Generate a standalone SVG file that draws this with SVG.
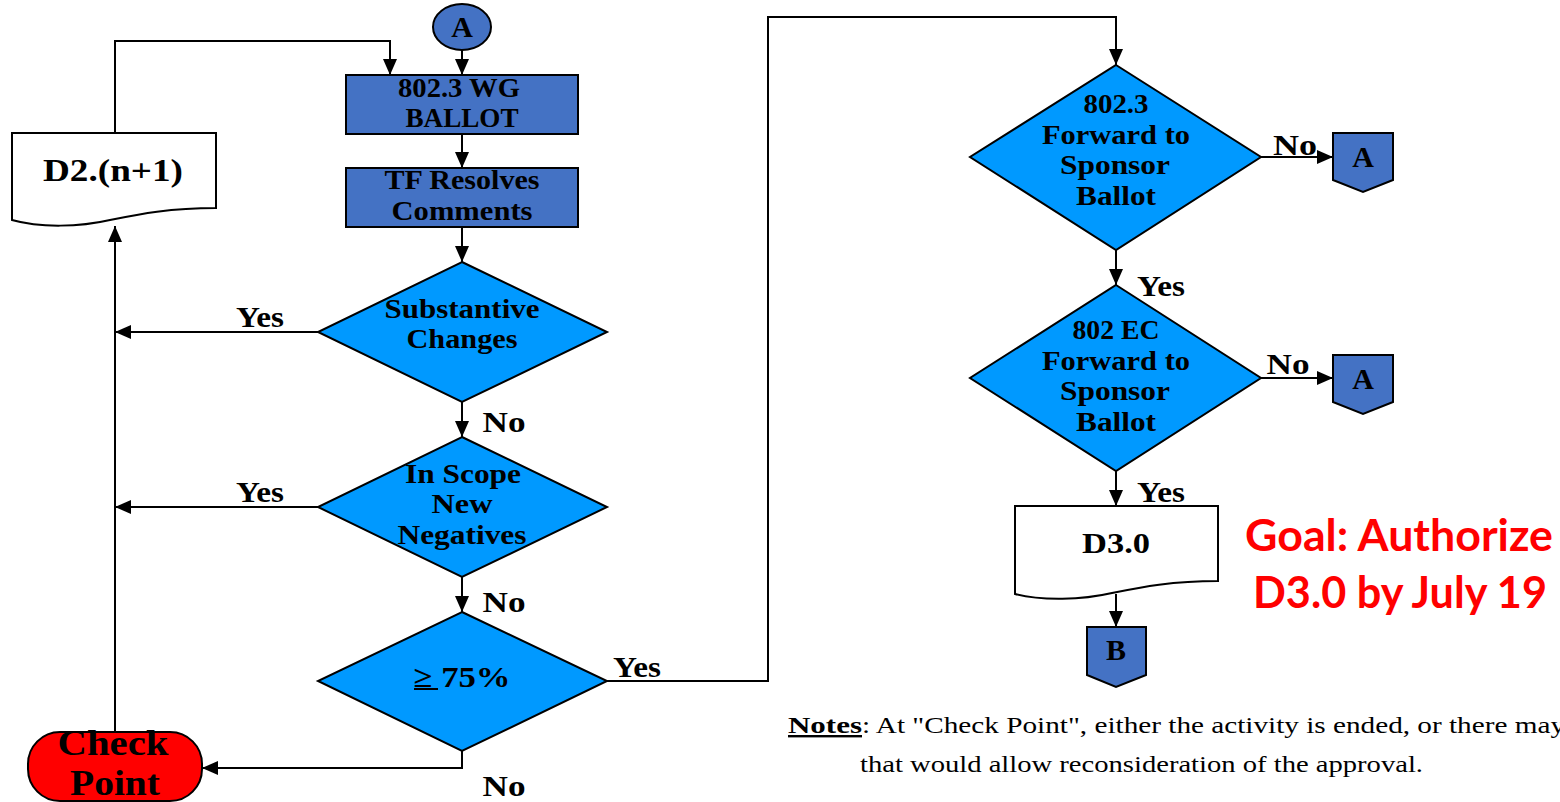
<svg xmlns="http://www.w3.org/2000/svg" width="1560" height="802" viewBox="0 0 1560 802">
<style>
.ln{fill:none;stroke:#000;stroke-width:2}
.box{fill:#4472C4;stroke:#000;stroke-width:2}
.dia{fill:#0099FF;stroke:#000;stroke-width:2}
.doc{fill:#fff;stroke:#000;stroke-width:2}
.t{font-family:"Liberation Serif",serif;font-weight:bold;fill:#000;text-anchor:middle}
.s26{font-size:26px}
.s28{font-size:28px}
.s30{font-size:30px}
.goal{font-family:Lato,"Liberation Sans",sans-serif;font-weight:bold;font-size:43px;fill:#FF0000;text-anchor:middle}
.note{font-family:"Liberation Serif",serif;font-size:24px;fill:#000}
</style>
<defs>
<marker id="ah" viewBox="0 0 16 14" refX="16" refY="7" markerWidth="16" markerHeight="14" orient="auto" markerUnits="userSpaceOnUse">
<path d="M0,0 L16,7 L0,14 Z" fill="#000"/>
</marker>
</defs>

<g id="connectors">
<path class="ln" d="M462,50 V75" marker-end="url(#ah)"/>
<path class="ln" d="M462,134 V168" marker-end="url(#ah)"/>
<path class="ln" d="M462,227 V262" marker-end="url(#ah)"/>
<path class="ln" d="M318,332 H115" marker-end="url(#ah)"/>
<path class="ln" d="M462,402 V437" marker-end="url(#ah)"/>
<path class="ln" d="M318,507 H115" marker-end="url(#ah)"/>
<path class="ln" d="M462,577 V612" marker-end="url(#ah)"/>
<path class="ln" d="M607,681 H768 V17 H1116 V65" marker-end="url(#ah)"/>
<path class="ln" d="M462,751 V768 H202" marker-end="url(#ah)"/>
<path class="ln" d="M115,732 V226" marker-end="url(#ah)"/>
<path class="ln" d="M115,133 V41 H390 V75" marker-end="url(#ah)"/>
<path class="ln" d="M1261,157 H1333" marker-end="url(#ah)"/>
<path class="ln" d="M1116,250 V285" marker-end="url(#ah)"/>
<path class="ln" d="M1261,378 H1333" marker-end="url(#ah)"/>
<path class="ln" d="M1116,471 V506" marker-end="url(#ah)"/>
<path class="ln" d="M1116,594 V627" marker-end="url(#ah)"/>
</g>

<g id="labels">
<text class="t s30" x="260" y="327" textLength="48" lengthAdjust="spacingAndGlyphs">Yes</text>
<text class="t s30" x="260" y="502" textLength="48" lengthAdjust="spacingAndGlyphs">Yes</text>
<text class="t s30" x="504" y="432" textLength="43" lengthAdjust="spacingAndGlyphs">No</text>
<text class="t s30" x="504" y="612" textLength="43" lengthAdjust="spacingAndGlyphs">No</text>
<text class="t s30" x="504" y="796" textLength="43" lengthAdjust="spacingAndGlyphs">No</text>
<text class="t s30" x="637" y="677" textLength="48" lengthAdjust="spacingAndGlyphs">Yes</text>
<text class="t s30" x="1295" y="155" textLength="44" lengthAdjust="spacingAndGlyphs">No</text>
<text class="t s30" x="1288" y="374" textLength="43" lengthAdjust="spacingAndGlyphs">No</text>
<text class="t s30" x="1161" y="296" textLength="48" lengthAdjust="spacingAndGlyphs">Yes</text>
<text class="t s30" x="1161" y="502" textLength="48" lengthAdjust="spacingAndGlyphs">Yes</text>
</g>

<g id="conA">
<ellipse cx="462" cy="27" rx="29" ry="23" class="box"/>
<text class="t s30" x="462" y="37">A</text>
</g>

<g id="wgBallot">
<rect x="346" y="75" width="232" height="59" class="box"/>
<text class="t s28" x="459" y="97" textLength="122" lengthAdjust="spacingAndGlyphs">802.3 WG</text>
<text class="t s28" x="462" y="127" textLength="113" lengthAdjust="spacingAndGlyphs">BALLOT</text>
</g>

<g id="tfResolves">
<rect x="346" y="168" width="232" height="59" class="box"/>
<text class="t s28" x="462" y="189" textLength="155" lengthAdjust="spacingAndGlyphs">TF Resolves</text>
<text class="t s28" x="462" y="220" textLength="141" lengthAdjust="spacingAndGlyphs">Comments</text>
</g>

<g id="substantive">
<polygon points="462,262 607,332 462,402 318,332" class="dia"/>
<text class="t s28" x="462" y="318" textLength="155" lengthAdjust="spacingAndGlyphs">Substantive</text>
<text class="t s28" x="462" y="348" textLength="111" lengthAdjust="spacingAndGlyphs">Changes</text>
</g>

<g id="inScope">
<polygon points="462,437 607,507 462,577 318,507" class="dia"/>
<text class="t s28" x="463" y="483" textLength="116" lengthAdjust="spacingAndGlyphs">In Scope</text>
<text class="t s28" x="462" y="513" textLength="61" lengthAdjust="spacingAndGlyphs">New</text>
<text class="t s28" x="462" y="544" textLength="129" lengthAdjust="spacingAndGlyphs">Negatives</text>
</g>

<g id="pct75">
<polygon points="462,612 607,681 462,751 318,681" class="dia"/>
<text class="t s30" x="462" y="687" textLength="97" lengthAdjust="spacingAndGlyphs">&#x2265; 75%</text>
<line x1="414" y1="689" x2="438" y2="689" stroke="#000" stroke-width="2"/>
</g>

<g id="d2n1">
<path class="doc" d="M12,133 H216 V208 C170,208 140,214 110,220 C80,227 40,228 12,220 Z"/>
<text class="t" font-size="32" x="113" y="181" textLength="140" lengthAdjust="spacingAndGlyphs">D2.(n+1)</text>
</g>

<g id="checkPoint">
<rect x="28" y="732" width="174" height="69" rx="32" ry="32" fill="#FF0000" stroke="#000" stroke-width="2"/>
<text class="t" font-size="36" x="113" y="755" textLength="111" lengthAdjust="spacingAndGlyphs">Check</text>
<text class="t" font-size="36" x="115" y="795" textLength="90" lengthAdjust="spacingAndGlyphs">Point</text>
</g>

<g id="fwd8023">
<polygon points="1116,65 1261,157 1116,250 970,157" class="dia"/>
<text class="t s28" x="1116" y="113" textLength="65" lengthAdjust="spacingAndGlyphs">802.3</text>
<text class="t s28" x="1116" y="144" textLength="148" lengthAdjust="spacingAndGlyphs">Forward to</text>
<text class="t s28" x="1115" y="174" textLength="110" lengthAdjust="spacingAndGlyphs">Sponsor</text>
<text class="t s28" x="1116" y="205" textLength="80" lengthAdjust="spacingAndGlyphs">Ballot</text>
</g>

<g id="conA1">
<path class="box" d="M1333,133 H1393 V180 L1363,192 L1333,180 Z"/>
<text class="t s30" x="1363" y="167">A</text>
</g>

<g id="fwdEC">
<polygon points="1116,285 1261,378 1116,471 970,378" class="dia"/>
<text class="t s28" x="1116" y="339" textLength="87" lengthAdjust="spacingAndGlyphs">802 EC</text>
<text class="t s28" x="1116" y="370" textLength="148" lengthAdjust="spacingAndGlyphs">Forward to</text>
<text class="t s28" x="1115" y="400" textLength="110" lengthAdjust="spacingAndGlyphs">Sponsor</text>
<text class="t s28" x="1116" y="431" textLength="80" lengthAdjust="spacingAndGlyphs">Ballot</text>
</g>

<g id="conA2">
<path class="box" d="M1333,355 H1393 V402 L1363,414 L1333,402 Z"/>
<text class="t s30" x="1363" y="389">A</text>
</g>

<g id="d30">
<path class="doc" d="M1015,506 H1218 V581 C1172,581 1142,587 1112,593 C1082,600 1042,601 1015,594 Z"/>
<text class="t" font-size="30" x="1116" y="553" textLength="68" lengthAdjust="spacingAndGlyphs">D3.0</text>
</g>

<g id="conB">
<path class="box" d="M1087,627 H1146 V675 L1116,687 L1087,675 Z"/>
<text class="t s30" x="1116" y="660">B</text>
</g>

<g id="goal">
<text class="goal" x="1399" y="551" textLength="308" lengthAdjust="spacingAndGlyphs">Goal: Authorize</text>
<text class="goal" x="1400" y="608" textLength="294" lengthAdjust="spacingAndGlyphs">D3.0 by July 19</text>
</g>

<g id="notes">
<text class="note" x="788" y="733" font-weight="bold" text-decoration="underline" textLength="74" lengthAdjust="spacingAndGlyphs">Notes</text>
<text class="note" x="862" y="733" textLength="703" lengthAdjust="spacingAndGlyphs">: At "Check Point", either the activity is ended, or there may</text>
<text class="note" x="860" y="772" textLength="563" lengthAdjust="spacingAndGlyphs">that would allow reconsideration of the approval.</text>
</g>
</svg>
